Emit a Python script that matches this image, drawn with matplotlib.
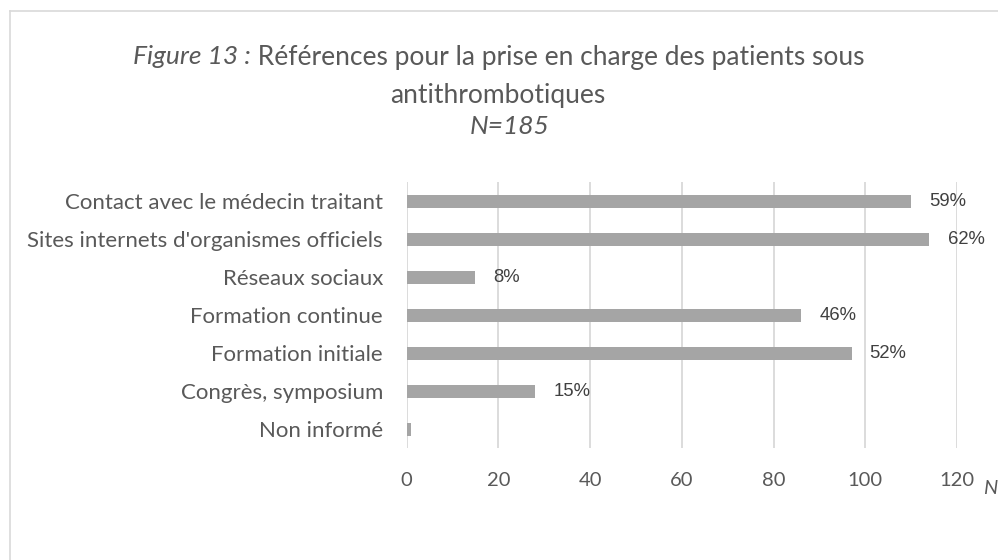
import matplotlib
matplotlib.use("Agg")
import matplotlib.pyplot as plt
from matplotlib.lines import Line2D

categories = ["Contact avec le médecin traitant",
              "Sites internets d'organismes officiels",
              "Réseaux sociaux",
              "Formation continue",
              "Formation initiale",
              "Congrès, symposium",
              "Non informé"]
values = [110, 114, 15, 86, 97, 28, 1]
pct_labels = ["59%", "62%", "8%", "46%", "52%", "15%", ""]
xticks = [0, 20, 40, 60, 80, 100, 120]

W, H = 998, 560
fig = plt.figure(figsize=(W / 100, H / 100), dpi=100)
fig.patch.set_facecolor("white")

TXT = "#595959"
FONT = "Lato"

ax = fig.add_axes([406.7 / W, 1 - 448.3 / H, (957 - 406.7) / W, 266 / H])
y = list(range(len(categories)))
ax.barh(y, values, height=0.35, color="#A5A5A5", zorder=3)
ax.set_ylim(len(categories) - 0.5, -0.5)
ax.set_xlim(0, 120)
ax.set_xticks(xticks)
ax.set_xticklabels([str(t) for t in xticks], fontsize=14.5, color=TXT, family=FONT)
ax.set_yticks(y)
ax.set_yticklabels(categories, fontsize=16, color=TXT, family=FONT)
ax.tick_params(axis="x", length=0, pad=17)
ax.tick_params(axis="y", length=0, pad=17)
for s in ax.spines.values():
    s.set_visible(False)
ax.grid(axis="x", color="#D9D9D9", linewidth=1.3, zorder=0)
ax.set_axisbelow(True)

for yi, v, lab in zip(y, values, pct_labels):
    if lab:
        ax.annotate(lab, xy=(v, yi), xytext=(13, 0), textcoords="offset points",
                    ha="left", va="center", fontsize=13.3, color="#404040",
                    family="Liberation Sans")

# axis unit label
fig.text(990 / W, 1 - 488 / H, "N", fontsize=14.5, style="italic", color=TXT,
         family=FONT, ha="center", va="center")

# border
fig.add_artist(Line2D([10 / W, 10 / W], [0, 1 - 11 / H], color="#D9D9D9", lw=1.2,
                      transform=fig.transFigure))
fig.add_artist(Line2D([10 / W, 1], [1 - 11 / H, 1 - 11 / H], color="#D9D9D9", lw=1.2,
                      transform=fig.transFigure))

# title
TS = 19
renderer = fig.canvas.get_renderer()
t1 = fig.text(0, 1 - 57 / H, "Figure 13 :", fontsize=TS, style="italic", color=TXT,
              family=FONT, ha="left", va="center")
t2 = fig.text(0, 1 - 57 / H, " Références pour la prise en charge des patients sous",
              fontsize=TS, color=TXT, family=FONT, ha="left", va="center")
w1 = t1.get_window_extent(renderer).width
w2 = t2.get_window_extent(renderer).width
cx = 499
x0 = cx - (w1 + w2) / 2
t1.set_x(x0 / W)
t2.set_x((x0 + w1) / W)
fig.text(498 / W, 1 - 95 / H, "antithrombotiques", fontsize=TS, color=TXT,
         family=FONT, ha="center", va="center")
fig.text(510 / W, 1 - 127 / H, "N=185", fontsize=TS, style="italic", color=TXT,
         family=FONT, ha="center", va="center")

fig.savefig("out.png", dpi=100)
